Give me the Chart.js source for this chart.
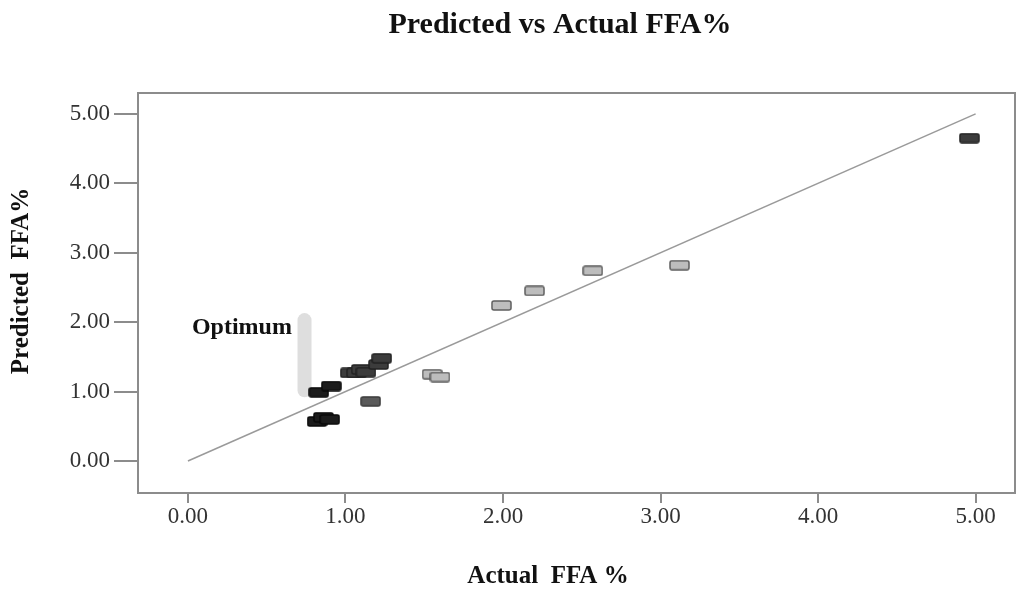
<!DOCTYPE html>
<html>
<head>
<meta charset="utf-8">
<script src="https://cdn.jsdelivr.net/npm/chart.js@4.4.1/dist/chart.umd.min.js"></script>
<style>
  html, body { margin: 0; padding: 0; background: #fff; }
  #wrap { width: 1020px; height: 597px; }
</style>
</head>
<body>
<div id="wrap"><canvas id="ffaChart" width="1020" height="597"></canvas></div>
<script>
// tick positions (both axes)
const tickValues = [0, 1, 2, 3, 4, 5];

// runs, grouped by marker shade
const blackActual = [0.83, 0.91, 0.82, 0.86, 0.90];
const blackPredicted = [0.99, 1.08, 0.57, 0.63, 0.60];

const darkActual = [1.03, 1.07, 1.10, 1.13, 1.21, 1.23, 4.96];
const darkPredicted = [1.27, 1.27, 1.32, 1.28, 1.39, 1.48, 4.65];

const greyActual = [1.16];
const greyPredicted = [0.86];

const lightActual = [1.55, 1.60, 1.99, 2.20, 2.57, 3.12];
const lightPredicted = [1.25, 1.21, 2.24, 2.45, 2.74, 2.82];

// y = x reference line
const refLine = [0, 5];

// "Optimum" marker bar
const optimumX = [0.74, 0.74];
const optimumY = [1.02, 2.03];

const toPoints = (xs, ys) => xs.map((x, i) => ({ x: x, y: ys[i] }));

function makeMarker(fill, stroke) {
    const c = document.createElement('canvas');
    c.width = 21;
    c.height = 11;
    const g = c.getContext('2d');
    g.fillStyle = fill;
    g.strokeStyle = stroke;
    g.lineWidth = 1.5;
    g.beginPath();
    g.roundRect(1, 1, 19, 9, 2);
    g.fill();
    g.stroke();
    return c;
}

const serif = '"Liberation Serif", "Times New Roman", serif';

const framePlugin = {
    id: 'frame',
    beforeDatasetsDraw(chart) {
        const { ctx, chartArea: a } = chart;
        ctx.save();
        ctx.strokeStyle = '#8c8c8c';
        ctx.lineWidth = 2;
        ctx.strokeRect(a.left, a.top, a.right - a.left, a.bottom - a.top);
        ctx.restore();
    },
    afterDraw(chart) {
        const { ctx, scales } = chart;
        ctx.save();
        ctx.fillStyle = '#111';
        ctx.textAlign = 'center';
        ctx.textBaseline = 'middle';
        ctx.font = 'bold 30px ' + serif;
        ctx.fillText('Predicted vs Actual FFA%', 560, 25);
        ctx.font = 'bold 25px ' + serif;
        ctx.fillText('Actual  FFA %', 548, 577);
        ctx.translate(22, 281);
        ctx.rotate(-Math.PI / 2);
        ctx.fillText('Predicted  FFA%', 0, 0);
        ctx.restore();

        ctx.save();
        ctx.fillStyle = '#111';
        ctx.font = 'bold 24px ' + serif;
        ctx.textAlign = 'right';
        ctx.textBaseline = 'middle';
        ctx.fillText('Optimum', scales.x.getPixelForValue(0.66), scales.y.getPixelForValue(1.92));
        ctx.restore();
    }
};

const axisCommon = {
    type: 'linear',
    afterBuildTicks: (scale) => {
        scale.ticks = tickValues.map((v) => ({ value: v }));
    },
    ticks: {
        color: '#333',
        font: { family: serif, size: 23 },
        callback: (v) => Number(v).toFixed(2),
    },
    grid: {
        drawOnChartArea: false,
        drawTicks: true,
        color: '#8c8c8c',
        lineWidth: 2,
    },
    border: { display: false },
};

new Chart(document.getElementById('ffaChart'), {
    type: 'scatter',
    data: {
        datasets: [
            {
                label: 'Optimum',
                type: 'line',
                data: toPoints(optimumX, optimumY),
                borderColor: '#dedede',
                borderWidth: 14,
                borderCapStyle: 'round',
                pointRadius: 0,
                order: 10,
            },
            {
                label: 'y = x',
                type: 'line',
                data: toPoints(refLine, refLine),
                borderColor: '#9a9a9a',
                borderWidth: 1.5,
                pointRadius: 0,
                order: 9,
            },
            {
                label: 'light',
                data: toPoints(lightActual, lightPredicted),
                pointStyle: makeMarker('#bdbdbd', '#5e5e5e'),
                order: 4,
            },
            {
                label: 'grey',
                data: toPoints(greyActual, greyPredicted),
                pointStyle: makeMarker('#5a5a5a', '#3a3a3a'),
                order: 3,
            },
            {
                label: 'dark',
                data: toPoints(darkActual, darkPredicted),
                pointStyle: makeMarker('#3c3c3c', '#222'),
                order: 2,
            },
            {
                label: 'black',
                data: toPoints(blackActual, blackPredicted),
                pointStyle: makeMarker('#1c1c1c', '#0a0a0a'),
                order: 1,
            },
        ],
    },
    options: {
        responsive: false,
        animation: false,
        layout: { padding: { top: 93, right: 5, left: 0, bottom: 0 } },
        plugins: {
            legend: { display: false },
            tooltip: { enabled: false },
        },
        scales: {
            x: {
                ...axisCommon,
                min: -0.317,
                max: 5.25,
                grid: { ...axisCommon.grid, tickLength: 10 },
                ticks: { ...axisCommon.ticks, padding: 0 },
                afterFit: (scale) => { scale.height = 104; },
            },
            y: {
                ...axisCommon,
                min: -0.46,
                max: 5.30,
                grid: { ...axisCommon.grid, tickLength: 24 },
                ticks: { ...axisCommon.ticks, padding: 4 },
                afterFit: (scale) => { scale.width = 138; },
            },
        },
    },
    plugins: [framePlugin],
});
</script>
</body>
</html>
